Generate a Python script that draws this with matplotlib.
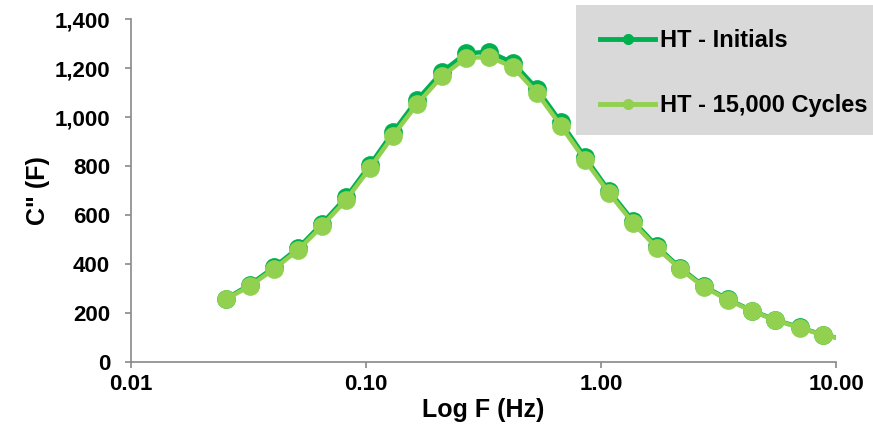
import matplotlib
matplotlib.use("Agg")
import matplotlib.pyplot as plt
from matplotlib.patches import Rectangle
from matplotlib.ticker import FixedLocator, FuncFormatter, NullLocator

# frequency (Hz) and C'' values
freq = [0.0254, 0.0321, 0.0406, 0.0514, 0.0650, 0.0822, 0.104, 0.130, 0.165,
        0.211, 0.266, 0.334, 0.422, 0.534, 0.676, 0.855, 1.08, 1.37, 1.73,
        2.17, 2.74, 3.47, 4.39, 5.50, 7.03, 8.80, 11.1]
ht_initials = [259, 316, 387, 465, 565, 672, 805, 937, 1070, 1185, 1260, 1266,
               1222, 1115, 978, 836, 700, 576, 472, 385, 310, 256, 210, 173,
               141, 111, 91]
ht_cycles = [257, 310, 380, 457, 555, 661, 792, 922, 1053, 1167, 1241, 1245,
             1204, 1098, 963, 824, 690, 567, 465, 380, 306, 253, 208, 171,
             139, 110, 90]
labels = ["HT - Initials", "HT - 15,000 Cycles"]

x_ticks = [0.01, 0.1, 1, 10]
y_ticks = [0, 200, 400, 600, 800, 1000, 1200, 1400]

dark = "#00B050"
light = "#92D050"
grey = "#898989"

plt.rcParams["font.family"] = ["Liberation Sans", "DejaVu Sans"]
plt.rcParams["font.weight"] = "bold"

fig = plt.figure(figsize=(8.73, 4.25), dpi=100)
ax = fig.add_axes([131 / 873, 1 - 362 / 425, 705 / 873, 343 / 425])

l1, = ax.plot(freq, ht_initials, color=dark, lw=3.2, marker="o", ms=13.5,
              mew=0, label=labels[0])
l2, = ax.plot(freq, ht_cycles, color=light, lw=3.2, marker="o", ms=13.5,
              mew=0, label=labels[1])

ax.set_xscale("log")
ax.set_xlim(0.01, 10)
ax.set_ylim(0, 1400)
ax.xaxis.set_major_locator(FixedLocator(x_ticks))
ax.xaxis.set_minor_locator(NullLocator())
ax.xaxis.set_major_formatter(FuncFormatter(lambda v, p: f"{v:.2f}"))
ax.yaxis.set_major_locator(FixedLocator(y_ticks))
ax.yaxis.set_major_formatter(FuncFormatter(lambda v, p: f"{int(v):,}"))

for s in ["top", "right"]:
    ax.spines[s].set_visible(False)
for s in ["left", "bottom"]:
    ax.spines[s].set_color(grey)
    ax.spines[s].set_linewidth(1.2)
ax.tick_params(axis="both", direction="out", length=4, width=1.2, color=grey,
               labelsize=16)
ax.tick_params(axis="y", pad=11)
ax.tick_params(axis="x", pad=5)

ax.set_xlabel("Log F (Hz)", fontsize=18, fontweight="bold", labelpad=2)
ax.set_ylabel('C" (F)', fontsize=18, fontweight="bold", labelpad=3)

# grey legend box at top right
fig.patches.append(Rectangle((576 / 873, 1 - 135 / 425), 297 / 873, 130 / 425,
                             transform=fig.transFigure, facecolor="#D9D9D9",
                             edgecolor="none", zorder=3))
leg = fig.legend(handles=[l1, l2], loc="upper left",
                 bbox_to_anchor=(588 / 873, 1 - 17 / 425), frameon=False,
                 fontsize=17, handlelength=2.35, handletextpad=0.2,
                 labelspacing=1.8, borderpad=0)
leg.set_zorder(4)
for h in leg.legend_handles:
    h.set_markersize(8)
    h.set_linewidth(3.5)

fig.savefig("out.png", dpi=100)
